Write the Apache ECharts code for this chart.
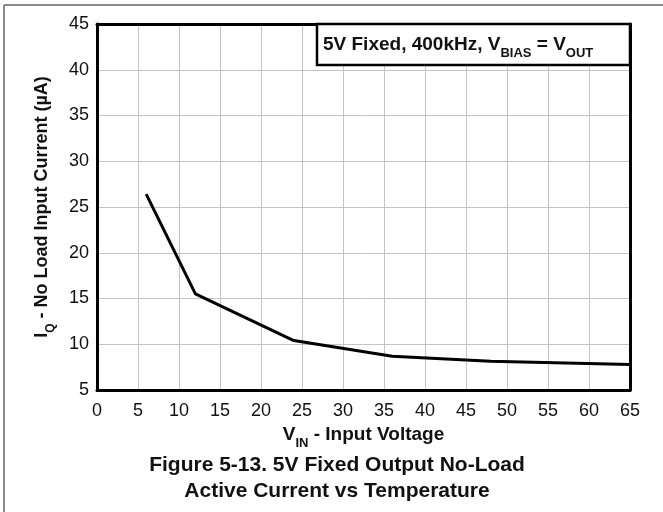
<!DOCTYPE html>
<html>
<head>
<meta charset="utf-8">
<script src="https://cdn.jsdelivr.net/npm/echarts@6/dist/echarts.min.js"></script>
<style>
html,body{margin:0;padding:0;background:#fff;}
#c{width:663px;height:512px;}
</style>
</head>
<body>
<div id="c"></div>
<script>
// Data
const vin = [6, 12, 24, 36, 48, 65];
const iq = [26.4, 15.5, 10.4, 8.7, 8.15, 7.8];
const xTicks = [0, 5, 10, 15, 20, 25, 30, 35, 40, 45, 50, 55, 60, 65];
const yTicks = [5, 10, 15, 20, 25, 30, 35, 40, 45];
const legendText = ['5V Fixed, 400kHz, V', 'BIAS', ' = V', 'OUT'];
const captionLines = ['Figure 5-13. 5V Fixed Output No-Load', 'Active Current vs Temperature'];

const FONT = '"Liberation Sans", Arial, sans-serif';
const chart = echarts.init(document.getElementById('c'), null, {renderer: 'canvas'});

const G = {left: 97, right: 33, top: 24, bottom: 122};

chart.setOption({
  animation: false,
  backgroundColor: '#fff',
  grid: {left: G.left, right: G.right, top: G.top, bottom: G.bottom, containLabel: false},
  xAxis: [{
    type: 'value', min: xTicks[0], max: xTicks[xTicks.length - 1], interval: 5,
    position: 'bottom',
    axisLine: {show: true, onZero: false, lineStyle: {color: '#000', width: 3}},
    axisTick: {show: false},
    axisLabel: {color: '#111', fontFamily: FONT, fontSize: 18, margin: 12},
    splitLine: {show: true, lineStyle: {color: '#c4c4c4', width: 1}},
    name: '{b|V}{s|IN}{b| - Input Voltage}',
    nameLocation: 'middle', nameGap: 34,
    nameTextStyle: {
      rich: {
        b: {fontFamily: FONT, fontWeight: 'bold', fontSize: 19, color: '#111'},
        s: {fontFamily: FONT, fontWeight: 'bold', fontSize: 13, color: '#111', verticalAlign: 'bottom', padding: [0, 0, -6, 0]}
      }
    }
  }, {
    type: 'value', min: xTicks[0], max: xTicks[xTicks.length - 1], interval: 5,
    position: 'top',
    axisLine: {show: true, onZero: false, lineStyle: {color: '#000', width: 3}},
    axisTick: {show: false}, axisLabel: {show: false}, splitLine: {show: false}
  }],
  yAxis: [{
    type: 'value', min: yTicks[0], max: yTicks[yTicks.length - 1], interval: 5,
    position: 'left',
    axisLine: {show: true, onZero: false, lineStyle: {color: '#000', width: 3}},
    axisTick: {show: false},
    axisLabel: {color: '#111', fontFamily: FONT, fontSize: 18, margin: 8},
    splitLine: {show: true, lineStyle: {color: '#c4c4c4', width: 1}},
    name: '{b|I}{s|Q}{b| - No Load Input Current (µA)}',
    nameLocation: 'middle', nameGap: 46, nameRotate: 90,
    nameTextStyle: {
      rich: {
        b: {fontFamily: FONT, fontWeight: 'bold', fontSize: 18, color: '#111'},
        s: {fontFamily: FONT, fontWeight: 'bold', fontSize: 12, color: '#111', verticalAlign: 'bottom', padding: [0, 0, -6, 0]}
      }
    }
  }, {
    type: 'value', min: yTicks[0], max: yTicks[yTicks.length - 1], interval: 5,
    position: 'right',
    axisLine: {show: true, onZero: false, lineStyle: {color: '#000', width: 3}},
    axisTick: {show: false}, axisLabel: {show: false}, splitLine: {show: false}
  }],
  series: [{
    type: 'line',
    data: vin.map((v, i) => [v, iq[i]]),
    showSymbol: false,
    symbol: 'none',
    lineStyle: {color: '#000', width: 3},
    z: 5
  }],
  graphic: [
    {type: 'line', shape: {x1: 4, y1: 5, x2: 663, y2: 5}, style: {stroke: '#8a8a8a', lineWidth: 2}},
    {type: 'line', shape: {x1: 4, y1: 5, x2: 4, y2: 512}, style: {stroke: '#8a8a8a', lineWidth: 2}},
    {type: 'rect', z: 100, shape: {x: 317, y: 24, width: 313, height: 41},
      style: {fill: '#fff', stroke: '#000', lineWidth: 2.5}},
    {type: 'text', z: 101, left: 323, top: 35,
      style: {
        text: '{b|' + legendText[0] + '}{s|' + legendText[1] + '}{b|' + legendText[2] + '}{s|' + legendText[3] + '}',
        rich: {
          b: {fontFamily: FONT, fontWeight: 'bold', fontSize: 19, fill: '#111'},
          s: {fontFamily: FONT, fontWeight: 'bold', fontSize: 13, fill: '#111', verticalAlign: 'bottom', padding: [0, 0, -6, 0]}
        }
      }},
    {type: 'text', z: 101, x: 337, y: 465,
      style: {text: captionLines[0], fontFamily: FONT, fontWeight: 'bold', fontSize: 21, fill: '#111', textAlign: 'center', textVerticalAlign: 'middle'}},
    {type: 'text', z: 101, x: 337, y: 491,
      style: {text: captionLines[1], fontFamily: FONT, fontWeight: 'bold', fontSize: 21, fill: '#111', textAlign: 'center', textVerticalAlign: 'middle'}}
  ]
});
</script>
</body>
</html>
